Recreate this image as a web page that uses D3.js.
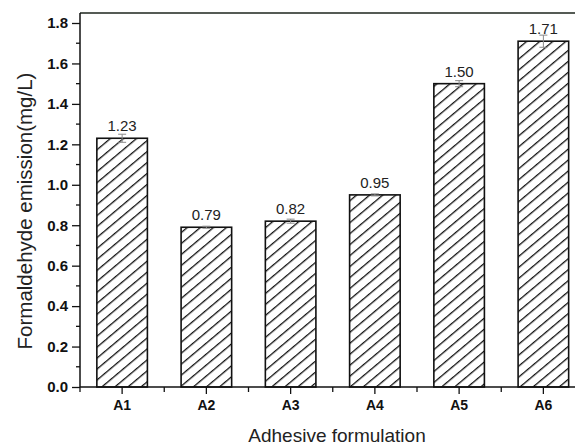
<!DOCTYPE html>
<html>
<head>
<meta charset="utf-8">
<script src="https://cdn.jsdelivr.net/npm/d3@7"></script>
<style>
  html, body { margin: 0; padding: 0; background: #fff; }
  svg { display: block; font-family: "Liberation Sans", Arial, sans-serif; }
</style>
</head>
<body>
<div id="chart"></div>
<script>
// Данные графика
const categories = ['A1', 'A2', 'A3', 'A4', 'A5', 'A6'];
const values = [1.23, 0.79, 0.82, 0.95, 1.50, 1.71];
const errors = [0.02, 0.005, 0.01, 0.005, 0.015, 0.03];
const valueLabels = ['1.23', '0.79', '0.82', '0.95', '1.50', '1.71'];
const yTicks = [0.0, 0.2, 0.4, 0.6, 0.8, 1.0, 1.2, 1.4, 1.6, 1.8];
const yMinorTicks = [0.1, 0.3, 0.5, 0.7, 0.9, 1.1, 1.3, 1.5, 1.7];

const width = 575, height = 447;
const margin = { top: 13, left: 80 };
const plotRight = 585.5; // рамка уходит за правый край картинки

const svg = d3.select('#chart').append('svg')
    .attr('width', width)
    .attr('height', height);

// Штриховка "///"
const hs = 8.4;
const pattern = svg.append('defs').append('pattern')
    .attr('id', 'hatch')
    .attr('patternUnits', 'userSpaceOnUse')
    .attr('width', hs)
    .attr('height', hs)
    .attr('patternTransform', 'rotate(50)');
pattern.append('rect').attr('width', hs).attr('height', hs).attr('fill', '#fff');
pattern.append('line')
    .attr('x1', 0).attr('y1', 0).attr('x2', 0).attr('y2', hs)
    .attr('stroke', '#111').attr('stroke-width', 2.6);

const x = d3.scaleBand()
    .domain(categories)
    .range([margin.left, plotRight])
    .paddingInner(0.4)
    .paddingOuter(0.2);

const xOuter = d3.scaleBand()
    .domain(categories)
    .range([margin.left, plotRight]);

const y = d3.scaleLinear()
    .domain([0, 1.8])
    .range([387, 23]);

const baseY = y(0);

// Верхняя линия рамки
svg.append('line')
    .attr('x1', margin.left).attr('x2', plotRight)
    .attr('y1', margin.top).attr('y2', margin.top)
    .attr('stroke', '#1c241c').attr('stroke-width', 1.5);

// Столбцы
svg.append('g').selectAll('rect')
    .data(values)
    .join('rect')
    .attr('x', (d, i) => x(categories[i]))
    .attr('y', d => y(d))
    .attr('width', x.bandwidth())
    .attr('height', d => baseY - y(d))
    .attr('fill', 'url(#hatch)')
    .attr('stroke', '#111')
    .attr('stroke-width', 1.6);

// Планки погрешностей
const eb = svg.append('g').attr('stroke', '#8a8a8a').attr('stroke-width', 1);
values.forEach((v, i) => {
    const cx = x(categories[i]) + x.bandwidth() / 2;
    const e = errors[i];
    eb.append('line').attr('x1', cx).attr('x2', cx).attr('y1', y(v + e)).attr('y2', y(v - e));
    eb.append('line').attr('x1', cx - 4).attr('x2', cx + 4).attr('y1', y(v + e)).attr('y2', y(v + e));
    eb.append('line').attr('x1', cx - 4).attr('x2', cx + 4).attr('y1', y(v - e)).attr('y2', y(v - e));
});

// Подписи значений
svg.append('g').selectAll('text')
    .data(values)
    .join('text')
    .attr('x', (d, i) => x(categories[i]) + x.bandwidth() / 2)
    .attr('y', d => y(d) - 7)
    .attr('text-anchor', 'middle')
    .attr('font-size', '15px')
    .attr('fill', '#222')
    .text((d, i) => valueLabels[i]);

// Ось Y
const yAxis = svg.append('g')
    .attr('transform', `translate(${margin.left},0)`)
    .call(d3.axisLeft(y).tickValues(yTicks).tickSize(8).tickPadding(4).tickFormat(d3.format('.1f')));
yAxis.select('.domain').attr('stroke', '#111').attr('stroke-width', 1.5)
    .attr('d', `M0,${margin.top}V${baseY}`);
yAxis.selectAll('.tick line').attr('stroke', '#111').attr('stroke-width', 1.3);
yAxis.selectAll('.tick text')
    .attr('font-size', '15px').attr('font-weight', 'bold').attr('fill', '#111')
    .attr('font-family', '"Liberation Sans", Arial, sans-serif');

svg.append('g').selectAll('line')
    .data(yMinorTicks)
    .join('line')
    .attr('x1', margin.left - 4).attr('x2', margin.left)
    .attr('y1', d => y(d)).attr('y2', d => y(d))
    .attr('stroke', '#111').attr('stroke-width', 1.3);

// Ось X
const xAxis = svg.append('g')
    .attr('transform', `translate(0,${baseY})`)
    .call(d3.axisBottom(x).tickSize(7).tickPadding(6));
xAxis.select('.domain').attr('stroke', '#111').attr('stroke-width', 1.5)
    .attr('d', `M${margin.left},0H${plotRight}`);
xAxis.selectAll('.tick line').attr('stroke', '#111').attr('stroke-width', 1.3);
xAxis.selectAll('.tick text')
    .attr('font-size', '14px').attr('font-weight', 'bold').attr('fill', '#111')
    .attr('font-family', '"Liberation Sans", Arial, sans-serif');

// Малые деления между категориями
svg.append('g').selectAll('line')
    .data(categories)
    .join('line')
    .attr('x1', d => xOuter(d)).attr('x2', d => xOuter(d))
    .attr('y1', baseY).attr('y2', baseY + 5)
    .attr('stroke', '#111').attr('stroke-width', 1.3);

// Подписи осей
svg.append('text')
    .attr('x', 337)
    .attr('y', 442)
    .attr('text-anchor', 'middle')
    .attr('font-size', '19px')
    .attr('fill', '#222')
    .text('Adhesive formulation');

svg.append('text')
    .attr('transform', 'translate(32,211) rotate(-90)')
    .attr('text-anchor', 'middle')
    .attr('font-size', '20.5px')
    .attr('fill', '#222')
    .text('Formaldehyde emission(mg/L)');
</script>
</body>
</html>
